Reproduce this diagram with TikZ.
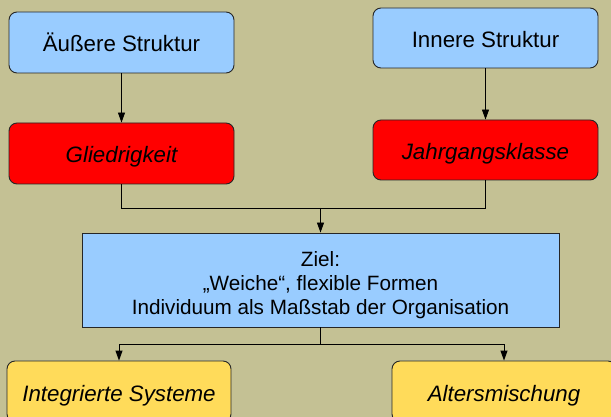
\documentclass[tikz,border=0pt]{standalone}
\usepackage{fontspec}
\setmainfont{Liberation Sans}
\usetikzlibrary{arrows.meta}
\definecolor{bgc}{RGB}{196,193,148}
\definecolor{lblue}{RGB}{153,204,255}
\definecolor{lred}{RGB}{255,0,0}
\definecolor{lyel}{RGB}{255,219,90}
\tikzset{
  box/.style={draw=black!85, line width=0.9pt, rounded corners=8pt, minimum width=225pt, minimum height=61pt, inner sep=0pt, text height=22pt, text depth=3pt, align=center, font=\fontsize{22.3}{26}\selectfont},
  bluebox/.style={box, fill=lblue},
  redbox/.style={box, fill=lred, font=\fontsize{22.3}{26}\selectfont\itshape},
  yelbox/.style={box, fill=lyel, font=\fontsize{22.3}{26}\selectfont\itshape},
  zielbox/.style={draw=black!85, line width=0.9pt, fill=lblue, minimum width=477pt, minimum height=94pt, inner sep=0pt},
  zieltext/.style={align=center, inner sep=0pt, font=\fontsize{20.7}{24}\selectfont},
  conn/.style={draw=black, line width=0.9pt},
  arr/.style={conn, -{Triangle[length=10pt,width=7pt]}}
}
\begin{document}
\begin{tikzpicture}[x=1pt,y=-1pt]
\fill[bgc] (0,0) rectangle (611,417);
\useasboundingbox (0,0) rectangle (611,417);
\clip (0,0) rectangle (611,417);
\node[bluebox] (ae) at (121.5,42.5) {Äußere Struktur};
\node[redbox] (gl) at (121.5,153.5) {Gliedrigkeit};
\node[bluebox, minimum height=60pt] (in) at (485.5,38) {Innere Struktur};
\node[redbox, minimum height=60pt] (jg) at (485.5,150) {Jahrgangsklasse};
\node[zielbox] (ziel) at (320.5,280) {};
\node[zieltext] (zt) at (320.5,285) {Ziel:\\„Weiche“, flexible Formen\\Individuum als Maßstab der Organisation};
\node[yelbox, minimum width=224pt] (is) at (119,391.5) {Integrierte Systeme};
\node[yelbox, minimum width=224pt] (am) at (504,391.5) {Altersmischung};
\coordinate (j) at (320.5,208);
\coordinate (k) at (320.5,344);
\draw[arr] (ae) -- (gl);
\draw[arr] (in) -- (jg);
\draw[conn] (gl.south) |- (j);
\draw[conn] (jg.south) |- (j);
\draw[arr] (j) -- (ziel.north);
\draw[conn] (ziel.south) -- (k);
\draw[arr] (k) -| (is.north);
\draw[arr] (k) -| (am.north);
\end{tikzpicture}
\end{document}
